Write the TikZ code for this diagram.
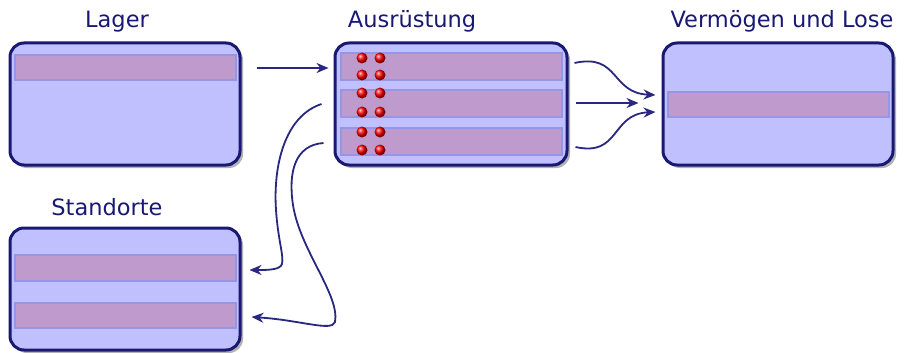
\documentclass[tikz,border=0pt]{standalone}
\usepackage{fontspec}
\setmainfont{DejaVu Sans}
\usetikzlibrary{shadows,arrows.meta}
\definecolor{navy}{RGB}{25,25,115}
\definecolor{boxfill}{RGB}{192,192,255}
\definecolor{stripefill}{RGB}{190,154,205}
\definecolor{stripeedge}{RGB}{150,150,230}
\definecolor{arrowc}{RGB}{40,40,128}
\begin{document}
\begin{tikzpicture}[x=1pt,y=-1pt,
 table/.style={draw=navy, line width=3pt, fill=boxfill, rounded corners=14pt, minimum width=230pt, minimum height=122pt, inner sep=0pt, drop shadow={shadow xshift=3pt, shadow yshift=-3pt, fill=black, opacity=0.3}},
 stripe/.style={fill=stripefill, draw=stripeedge, line width=1.5pt},
 title/.style={text=navy, font=\fontsize{22.5}{26}\selectfont, anchor=base, inner sep=0pt},
 link/.style={draw=arrowc, line width=1.8pt, -{Stealth[length=12pt,width=10pt]}},
 dot/.style={circle, ball color=red, minimum size=11pt, inner sep=0pt}]
\useasboundingbox (0,0) rectangle (905,353);
\fill[white] (0,0) rectangle (905,353);
% boxes
\node[table] (lager) at (125,104) {};
\node[table, minimum width=232pt] (ausr) at (451,104) {};
\node[table] (verm) at (778,104) {};
\node[table] (stand) at (125,289) {};
% stripes
\draw[stripe] (15,55) rectangle (236,80);
\draw[stripe] (341,53) rectangle (562,80);
\draw[stripe] (341,90) rectangle (562,117);
\draw[stripe] (341,128) rectangle (562,155);
\draw[stripe] (668,92) rectangle (889,117);
\draw[stripe] (15,255) rectangle (236,281);
\draw[stripe] (15,303) rectangle (236,328);
% dots
\foreach \yy [count=\i] in {58,75,93,112,132,150}{
  \node[dot] (dl\i) at (362,\yy) {};
  \node[dot] (dr\i) at (380,\yy) {};
}
% titles
\node[title] (tlager) at (117,28) {Lager};
\node[title] (tausr) at (412,28) {Ausrüstung};
\node[title] (tverm) at (782,28) {Vermögen und Lose};
\node[title] (tstand) at (107,215) {Standorte};
% connectors
\draw[link] ([shift={(15,-36)}]lager.east) -- ([shift={(-5,-36)}]ausr.west);
\draw[link] ([shift={(6,-41)}]ausr.east) .. controls +(45,-10) and +(-45,-2) .. ([shift={(-6,-9)}]verm.west);
\draw[link] ([shift={(7,-1)}]ausr.east) -- ([shift={(-23,-1)}]verm.west);
\draw[link] ([shift={(7,43)}]ausr.east) .. controls +(45,10) and +(-45,2) .. ([shift={(-6,8)}]verm.west);
\draw[link] ([shift={(-12,0)}]ausr.west) .. controls (285,116) and (273,165) .. (276,210) .. controls (278,240) and (284,256) .. (282,264) .. controls (280,270) and (268,270) .. ([shift={(8,-19)}]stand.east);
\draw[link] ([shift={(-10,39)}]ausr.west) .. controls (295,145) and (288,172) .. (293,205) .. controls (300,250) and (340,295) .. (335,322) .. controls (332,332) and (300,320) .. ([shift={(10,28)}]stand.east);
\end{tikzpicture}
\end{document}
